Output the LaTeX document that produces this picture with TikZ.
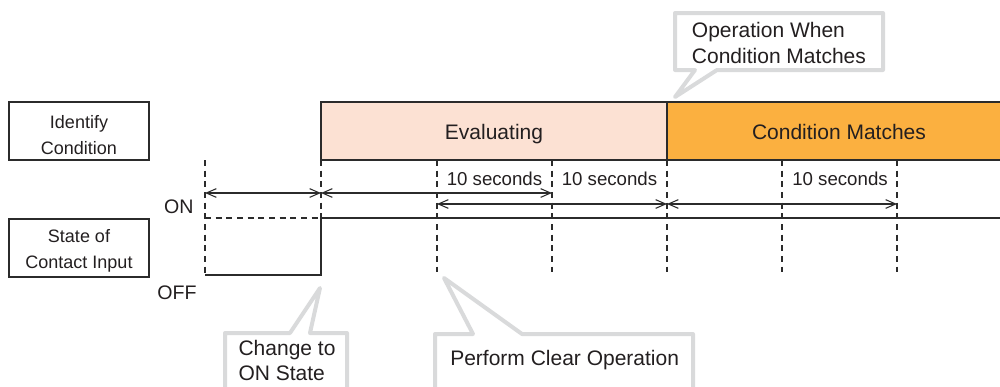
\documentclass[tikz,border=0pt]{standalone}
\usepackage{fontspec}
\setmainfont{Liberation Sans}
\usetikzlibrary{arrows.meta}
\definecolor{txt}{HTML}{231F20}
\definecolor{ln}{HTML}{2B2B2B}
\definecolor{evalfill}{HTML}{FCE1D3}
\definecolor{matchfill}{HTML}{FBB040}
\definecolor{callgray}{HTML}{D9DADB}
\begin{document}
\begin{tikzpicture}[x=0.75pt,y=-0.75pt,
  box/.style={draw=ln, line width=1.1pt},
  sig/.style={draw=ln, line width=1.1pt},
  guide/.style={draw=ln, line width=0.8pt, dash pattern=on 4.5pt off 3.5pt},
  span/.style={draw=ln, line width=0.8pt, {Straight Barb[length=7.5pt,width=6.5pt]}-{Straight Barb[length=7.5pt,width=6.5pt]}},
  callout/.style={draw=callgray, line width=3pt, fill=white, line join=round},
  lbl/.style={text=txt, inner sep=0pt, anchor=base, font=\fontsize{13.5}{16}\selectfont},
  big/.style={text=txt, inner sep=0pt, anchor=base, font=\fontsize{15.75}{19}\selectfont},
  bigl/.style={big, anchor=base west},
  sec/.style={text=txt, inner sep=0pt, anchor=base, font=\fontsize{14}{17}\selectfont},
  lvl/.style={text=txt, inner sep=0pt, anchor=base, font=\fontsize{14.7}{17}\selectfont}
]
\useasboundingbox (0,0) rectangle (1000,386);
\clip (0,0) rectangle (1000,386);

% left label boxes
\draw[box] (9,102) rectangle (149,160);
\node[lbl] (identA) at (79,128) {Identify};
\node[lbl] (identB) at (79,154.5) {Condition};
\draw[box] (9,219) rectangle (149,277);
\node[lbl] (stateA) at (79,242.7) {State of};
\node[lbl] (stateB) at (79,268.7) {Contact Input};

% state bars
\fill[evalfill] (321,102) rectangle (667,160);
\fill[matchfill] (667,102) rectangle (1010,160);
\draw[box] (321,102) rectangle (667,160);
\draw[box] (667,102) rectangle (1010,160);
\node[big] (evaluating) at (494,139) {Evaluating};
\node[big] (matches) at (839,139) {Condition Matches};

% time marks
\foreach \n/\x in {t1/321,t2/437,t3/552,t4/667,t5/782,t6/897}{
  \coordinate (\n top) at (\x,160);
}
\coordinate (t0top) at (205,160);
\coordinate (t0bot) at (205,275);
\coordinate (t1mid) at (321,218);
\foreach \n/\x in {t2/437,t3/552,t4/667,t5/782,t6/897}{
  \coordinate (\n bot) at (\x,272);
}
\draw[guide] (t0top) -- (t0bot);
\draw[guide] (t1top) -- (t1mid);
\foreach \n in {t2,t3,t4,t5,t6}{
  \draw[guide] (\n top) -- (\n bot);
}

% signal
\coordinate (off0) at (205,275);
\coordinate (off1) at (321,275);
\coordinate (on0) at (205,218);
\coordinate (on1) at (321,218);
\coordinate (on2) at (1010,218);
\draw[guide] (on0) -- (on1);
\draw[sig, line join=miter] (off0) -- (off1) -- (on1) -- (on2);
\node[lvl] (onlbl) at (178.7,213.3) {ON};
\node[lvl] (offlbl) at (177,299) {OFF};

% spans
\coordinate (a0) at (205,193);
\coordinate (a1) at (321,193);
\coordinate (a2) at (552,193);
\coordinate (b0) at (437,204);
\coordinate (b1) at (667,204);
\coordinate (b2) at (897,204);
\draw[span] (a0) -- (a1);
\draw[span] (a1) -- (a2);
\draw[span] (b0) -- (b1);
\draw[span] (b1) -- (b2);
\node[sec] (secA) at (494.5,185) {10 seconds};
\node[sec] (secB) at (609.5,185) {10 seconds};
\node[sec] (secC) at (840,185) {10 seconds};

% callouts
\draw[callout] (675,13) -- (883,13) -- (883,70) -- (717,70) -- (675,97) -- (695,70) -- (675,70) -- cycle;
\node[bigl] (opA) at (691.7,37.5) {Operation When};
\node[bigl] (opB) at (691.7,63) {Condition Matches};

\draw[callout] (225,400) -- (225,333) -- (290,333) -- (320,288) -- (310,333) -- (347,333) -- (347,400);
\node[bigl] (chA) at (238.3,355.5) {Change to};
\node[bigl] (chB) at (238.3,380) {ON State};

\draw[callout] (435,400) -- (435,334) -- (473,334) -- (444,278) -- (522,334) -- (693,334) -- (693,400);
\node[bigl] (clr) at (450,365.5) {Perform Clear Operation};
\end{tikzpicture}
\end{document}
